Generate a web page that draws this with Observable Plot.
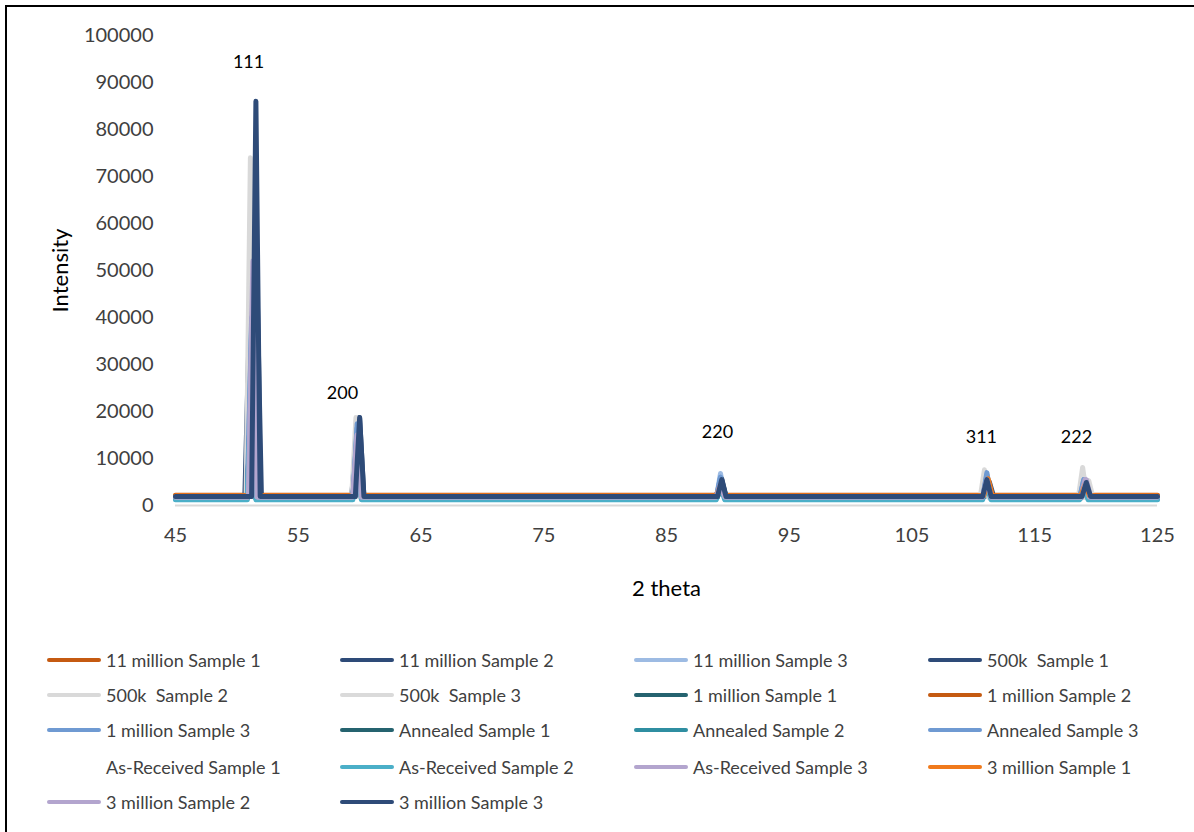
<!DOCTYPE html>
<html>
<head>
<meta charset="utf-8">
<script src="https://cdn.jsdelivr.net/npm/d3@7"></script>
<script src="https://cdn.jsdelivr.net/npm/@observablehq/plot@0.6"></script>
<style>
  html, body { margin: 0; padding: 0; background: #fff; }
  #wrap { position: relative; width: 1194px; height: 832px; overflow: hidden; font-family: Lato, "Open Sans", sans-serif; }
  #frame { position: absolute; left: 5px; top: 5px; width: 1200px; height: 840px; border-left: 2px solid #000; border-top: 2px solid #000; pointer-events: none; }
  #chart { position: absolute; left: 0; top: 0; }
  #legend { position: absolute; left: 0; top: 645px; width: 1194px; }
  .li { position: absolute; height: 30px; display: flex; align-items: center; font-size: 18px; color: #404040; white-space: pre; }
  .sw { width: 54px; height: 4px; border-radius: 2px; margin-right: 5px; }
</style>
</head>
<body>
<div id="wrap">
  <div id="chart"></div>
  <div id="legend"></div>
  <div id="frame"></div>
</div>
<script>
// ---- Data ----
const seriesNames = [
  "11 million Sample 1", "11 million Sample 2", "11 million Sample 3", "500k  Sample 1",
  "500k  Sample 2", "500k  Sample 3", "1 million Sample 1", "1 million Sample 2",
  "1 million Sample 3", "Annealed Sample 1", "Annealed Sample 2", "Annealed Sample 3",
  "As-Received Sample 1", "As-Received Sample 2", "As-Received Sample 3", "3 million Sample 1",
  "3 million Sample 2", "3 million Sample 3"
];
const seriesColors = [
  "#C55A11", "#2E4B78", "#9DBBE3", "#2E4B78",
  "#D9D9D9", "#DADADA", "#25636F", "#C55A11",
  "#6F9AD2", "#25636F", "#2F8EA1", "#6F9AD2",
  "none", "#4BAFC8", "#B3A5CE", "#F07A1C",
  "#B3A5CE", "#2E4B78"
];
// baseline intensity of each series
const baseline = [2200, 1900, 1500, 1900, 1700, 1700, 1800, 2100, 1600, 1800, 1500, 1500, 1800, 1200, 1800, 2100, 1800, 1900];
// peak (111)
const pos111  = [51.3, 51.0, 51.2, 51.65, 51.1, 51.2, 51.2, 51.3, 51.2, 51.2, 51.2, 51.2, 51.2, 51.2, 51.3, 51.4, 51.3, 51.55];
const peak111 = [30000, 37000, 40000, 46000, 74000, 50000, 28000, 30000, 40000, 28000, 28000, 38000, 1800, 26000, 47000, 44000, 52000, 86000];
// peak (200)
const pos200  = [59.9, 59.7, 59.8, 60.0, 59.7, 59.8, 59.8, 59.9, 59.8, 59.8, 59.8, 59.8, 59.8, 59.8, 59.8, 59.9, 59.8, 60.0];
const peak200 = [13000, 13000, 16000, 18700, 18700, 17000, 12000, 13000, 17400, 12000, 12000, 16500, 1800, 11000, 15000, 14200, 15000, 18700];
// peak (220)
const pos220  = [89.4, 89.4, 89.4, 89.5, 89.4, 89.4, 89.5, 89.4, 89.4, 89.5, 89.4, 89.4, 89.4, 89.4, 89.4, 89.4, 89.4, 89.5];
const peak220 = [4000, 5000, 6800, 5700, 5000, 4500, 5000, 4000, 6000, 4500, 4500, 6000, 1800, 4000, 4500, 4300, 4500, 5500];
// peak (311)
const pos311  = [111.1, 111.0, 111.0, 111.3, 110.9, 111.0, 111.1, 111.1, 111.1, 111.1, 111.1, 111.1, 111.1, 111.1, 111.1, 111.2, 111.1, 111.1];
const peak311 = [5500, 5500, 7000, 5000, 7600, 6500, 4500, 5000, 7000, 4500, 4500, 6500, 1800, 4000, 5500, 5700, 5500, 5500];
// peak (222)
const pos222  = [119.1, 118.9, 119.0, 119.3, 118.9, 119.4, 119.1, 119.1, 119.0, 119.1, 119.1, 119.0, 119.0, 119.0, 119.1, 119.1, 119.2, 119.2];
const peak222 = [4500, 4800, 6000, 5300, 8100, 5300, 4000, 4000, 5500, 4000, 4000, 5500, 1800, 3800, 5500, 4500, 5500, 4900];
const peakFootHalfWidth = 0.35; // shape of each peak foot, degrees
const xRange = [45, 125];
const xTicks = [45, 55, 65, 75, 85, 95, 105, 115, 125];
const yTicks = [0, 10000, 20000, 30000, 40000, 50000, 60000, 70000, 80000, 90000, 100000];
const peakLabels = ["111", "200", "220", "311", "222"];
const peakLabelX = [50.95, 58.6, 89.15, 110.65, 118.4];
const peakLabelY = [94300, 23800, 15500, 14500, 14500];

// ---- Build the line table ----
const peakPos = [pos111, pos200, pos220, pos311, pos222];
const peakVal = [peak111, peak200, peak220, peak311, peak222];
const rows = [];
seriesNames.forEach((name, i) => {
  if (seriesColors[i] === "none") return;
  const b = baseline[i];
  rows.push({series: name, x: xRange[0], y: b});
  for (let p = 0; p < peakPos.length; p++) {
    const c = peakPos[p][i];
    rows.push({series: name, x: c - peakFootHalfWidth, y: b});
    rows.push({series: name, x: c, y: peakVal[p][i]});
    rows.push({series: name, x: c + peakFootHalfWidth, y: b});
  }
  rows.push({series: name, x: xRange[1], y: b});
});
const labelRows = peakLabels.map((t, i) => ({t, x: peakLabelX[i], y: peakLabelY[i]}));

const chart = Plot.plot({
  width: 1194,
  height: 625,
  marginLeft: 175,
  marginRight: 37,
  marginTop: 35,
  marginBottom: 120,
  style: {fontFamily: "Lato, 'Open Sans', sans-serif", fontSize: "20px", color: "#404040", background: "transparent"},
  x: {domain: xRange},
  y: {domain: [0, 100000]},
  color: {domain: seriesNames, range: seriesColors},
  marks: [
    Plot.axisY({ticks: yTicks, tickSize: 0, tickPadding: 22, tickFormat: d => String(d), label: null, fontSize: 20}),
    Plot.axisX({ticks: xTicks, tickSize: 0, tickPadding: 22, tickFormat: d => String(d), label: null, fontSize: 20}),
    Plot.ruleY([0], {stroke: "#D9D9D9", strokeWidth: 2}),
    Plot.line(rows, {x: "x", y: "y", z: "series", stroke: "series", strokeWidth: 5, strokeLinejoin: "round", strokeLinecap: "round"}),
    Plot.text(labelRows, {x: "x", y: "y", text: "t", fontSize: 18, fill: "#000"}),
    Plot.text(["2 theta"], {frameAnchor: "bottom", dy: 90, fontSize: 22, fill: "#000"}),
    Plot.text(["Intensity"], {frameAnchor: "left", textAnchor: "middle", dx: -115, rotate: -90, fontSize: 22, fill: "#000"})
  ]
});
document.getElementById("chart").appendChild(chart);

// ---- Legend (4 columns, row-major) ----
const legend = document.getElementById("legend");
const colX = [47, 340, 634, 928];
const rowY = [0, 35, 70, 107, 142];
seriesNames.forEach((name, i) => {
  const col = i % 4, row = Math.floor(i / 4);
  const item = document.createElement("div");
  item.className = "li";
  item.style.left = colX[col] + "px";
  item.style.top = rowY[row] + "px";
  const sw = document.createElement("span");
  sw.className = "sw";
  sw.style.background = seriesColors[i] === "none" ? "transparent" : seriesColors[i];
  const tx = document.createElement("span");
  tx.textContent = name;
  item.appendChild(sw);
  item.appendChild(tx);
  legend.appendChild(item);
});
</script>
</body>
</html>
